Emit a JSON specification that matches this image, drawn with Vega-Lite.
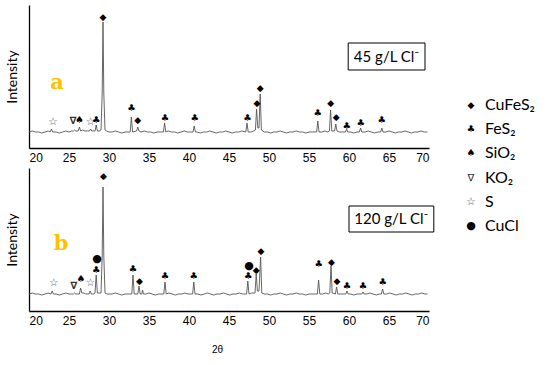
{
  "$schema": "https://vega.github.io/schema/vega-lite/v6.json",
  "padding": {"left": 5, "top": 5, "right": 0, "bottom": 0},
  "background": "white",
  "datasets": {
    "a": [
      {"t":20.0,"i":16},{"t":20.4,"i":17},{"t":20.8,"i":16},{"t":21.2,"i":16},{"t":21.6,"i":15},{"t":22.0,"i":16},{"t":22.4,"i":17},
      {"t":22.65,"i":16},{"t":22.8,"i":19},{"t":22.95,"i":16},
      {"t":23.4,"i":16},{"t":23.8,"i":15},{"t":24.2,"i":16},{"t":24.6,"i":17},{"t":25.0,"i":16},{"t":25.3,"i":17},
      {"t":25.55,"i":17},{"t":25.7,"i":18},{"t":25.85,"i":17},
      {"t":26.0,"i":17},
      {"t":26.15,"i":17},{"t":26.3,"i":21},{"t":26.45,"i":17},
      {"t":26.7,"i":18},{"t":27.0,"i":17},{"t":27.3,"i":17},
      {"t":27.55,"i":17},{"t":27.7,"i":19},{"t":27.85,"i":17},
      {"t":28.0,"i":17},
      {"t":28.25,"i":17},{"t":28.4,"i":23},{"t":28.55,"i":17},
      {"t":28.8,"i":17},
      {"t":29.0,"i":18},{"t":29.15,"i":55},{"t":29.25,"i":126},{"t":29.35,"i":55},{"t":29.5,"i":18},
      {"t":29.7,"i":17},{"t":30.0,"i":16},{"t":30.4,"i":16},{"t":30.8,"i":17},{"t":31.2,"i":16},{"t":31.6,"i":15},{"t":32.0,"i":16},{"t":32.4,"i":16},
      {"t":32.65,"i":16},{"t":32.8,"i":31},{"t":32.95,"i":16},
      {"t":33.45,"i":17},{"t":33.6,"i":21},{"t":33.75,"i":17},
      {"t":34.0,"i":16},{"t":34.4,"i":17},{"t":34.8,"i":16},{"t":35.2,"i":16},{"t":35.6,"i":15},{"t":36.0,"i":16},{"t":36.4,"i":16},
      {"t":36.8,"i":16},{"t":36.95,"i":25},{"t":37.1,"i":16},
      {"t":37.4,"i":17},{"t":37.8,"i":16},{"t":38.2,"i":16},{"t":38.6,"i":15},{"t":39.0,"i":16},{"t":39.4,"i":17},{"t":39.8,"i":16},{"t":40.2,"i":16},
      {"t":40.5,"i":16},{"t":40.65,"i":22},{"t":40.8,"i":16},
      {"t":41.0,"i":16},{"t":41.4,"i":15},{"t":41.8,"i":16},{"t":42.2,"i":16},{"t":42.6,"i":17},{"t":43.0,"i":16},{"t":43.4,"i":15},{"t":43.8,"i":16},{"t":44.2,"i":16},{"t":44.6,"i":17},{"t":45.0,"i":16},{"t":45.4,"i":15},{"t":45.8,"i":16},{"t":46.2,"i":16},{"t":46.6,"i":17},
      {"t":47.1,"i":16},{"t":47.25,"i":25},{"t":47.4,"i":16},
      {"t":47.7,"i":16},{"t":48.1,"i":17},
      {"t":48.3,"i":18},{"t":48.45,"i":39},{"t":48.6,"i":20},
      {"t":48.75,"i":20},{"t":48.9,"i":54},{"t":49.05,"i":18},
      {"t":49.4,"i":16},{"t":49.8,"i":16},{"t":50.2,"i":15},{"t":50.6,"i":16},{"t":51.0,"i":16},{"t":51.4,"i":17},{"t":51.8,"i":16},{"t":52.2,"i":15},{"t":52.6,"i":16},{"t":53.0,"i":16},{"t":53.4,"i":17},{"t":53.8,"i":16},{"t":54.2,"i":16},{"t":54.6,"i":15},{"t":55.0,"i":16},{"t":55.4,"i":16},{"t":55.8,"i":16},
      {"t":55.95,"i":16},{"t":56.1,"i":27},{"t":56.25,"i":16},
      {"t":56.6,"i":16},{"t":57.0,"i":17},{"t":57.3,"i":16},
      {"t":57.55,"i":17},{"t":57.7,"i":38},{"t":57.85,"i":17},
      {"t":58.2,"i":17},{"t":58.35,"i":24},{"t":58.5,"i":17},
      {"t":58.8,"i":16},{"t":59.2,"i":16},
      {"t":59.55,"i":16},{"t":59.7,"i":19},{"t":59.85,"i":16},
      {"t":60.2,"i":16},{"t":60.6,"i":15},{"t":61.0,"i":16},
      {"t":61.3,"i":16},{"t":61.45,"i":20},{"t":61.6,"i":16},
      {"t":62.0,"i":16},{"t":62.4,"i":17},{"t":62.8,"i":16},{"t":63.2,"i":15},{"t":63.6,"i":16},
      {"t":63.95,"i":16},{"t":64.1,"i":20},{"t":64.25,"i":16},
      {"t":64.6,"i":16},{"t":65.0,"i":17},{"t":65.4,"i":16},{"t":65.8,"i":15},{"t":66.2,"i":16},{"t":66.6,"i":16},{"t":67.0,"i":17},{"t":67.4,"i":16},{"t":67.8,"i":15},{"t":68.2,"i":16},{"t":68.6,"i":16},{"t":69.0,"i":17},{"t":69.4,"i":16},{"t":69.8,"i":16}
    ],
    "b": [
      {"t":20.0,"i":17},{"t":20.4,"i":18},{"t":20.8,"i":17},{"t":21.2,"i":17},{"t":21.6,"i":16},{"t":22.0,"i":17},{"t":22.4,"i":18},
      {"t":22.75,"i":17},{"t":22.9,"i":20},{"t":23.05,"i":17},
      {"t":23.4,"i":17},{"t":23.8,"i":16},{"t":24.2,"i":17},{"t":24.6,"i":18},{"t":25.0,"i":17},{"t":25.3,"i":17},
      {"t":25.55,"i":17},{"t":25.7,"i":18},{"t":25.85,"i":17},
      {"t":26.1,"i":17},
      {"t":26.3,"i":17},{"t":26.45,"i":23},{"t":26.6,"i":18},
      {"t":26.85,"i":18},{"t":27.1,"i":17},{"t":27.35,"i":17},
      {"t":27.5,"i":17},{"t":27.65,"i":20},{"t":27.8,"i":17},
      {"t":28.05,"i":17},
      {"t":28.25,"i":18},{"t":28.4,"i":36},{"t":28.55,"i":18},
      {"t":28.8,"i":18},
      {"t":29.0,"i":18},{"t":29.15,"i":55},{"t":29.25,"i":124},{"t":29.35,"i":55},{"t":29.5,"i":18},
      {"t":29.75,"i":17},{"t":30.0,"i":17},{"t":30.4,"i":17},{"t":30.8,"i":18},{"t":31.2,"i":17},{"t":31.6,"i":16},{"t":32.0,"i":17},{"t":32.4,"i":17},{"t":32.75,"i":17},
      {"t":32.85,"i":17},{"t":33.0,"i":36},{"t":33.15,"i":17},
      {"t":33.6,"i":17},{"t":33.75,"i":25},{"t":33.9,"i":17},
      {"t":34.1,"i":17},{"t":34.2,"i":21},{"t":34.3,"i":17},
      {"t":34.6,"i":17},{"t":35.0,"i":18},{"t":35.4,"i":17},{"t":35.8,"i":16},{"t":36.2,"i":17},{"t":36.6,"i":17},
      {"t":36.85,"i":17},{"t":37.0,"i":29},{"t":37.15,"i":17},
      {"t":37.5,"i":18},{"t":37.9,"i":17},{"t":38.3,"i":16},{"t":38.7,"i":17},{"t":39.1,"i":17},{"t":39.5,"i":18},{"t":39.9,"i":17},{"t":40.2,"i":17},
      {"t":40.45,"i":17},{"t":40.6,"i":29},{"t":40.75,"i":17},
      {"t":41.1,"i":17},{"t":41.5,"i":16},{"t":41.9,"i":17},{"t":42.3,"i":18},{"t":42.7,"i":17},{"t":43.1,"i":16},{"t":43.5,"i":17},{"t":43.9,"i":17},{"t":44.3,"i":18},{"t":44.7,"i":17},{"t":45.1,"i":16},{"t":45.5,"i":17},{"t":45.9,"i":17},{"t":46.3,"i":18},{"t":46.7,"i":17},{"t":47.0,"i":17},
      {"t":47.2,"i":17},{"t":47.35,"i":30},{"t":47.5,"i":17},
      {"t":47.8,"i":18},{"t":48.1,"i":18},
      {"t":48.25,"i":18},{"t":48.4,"i":37},{"t":48.55,"i":20},
      {"t":48.75,"i":20},{"t":48.95,"i":54},{"t":49.1,"i":18},
      {"t":49.4,"i":17},{"t":49.8,"i":17},{"t":50.2,"i":16},{"t":50.6,"i":17},{"t":51.0,"i":17},{"t":51.4,"i":18},{"t":51.8,"i":17},{"t":52.2,"i":16},{"t":52.6,"i":17},{"t":53.0,"i":17},{"t":53.4,"i":18},{"t":53.8,"i":17},{"t":54.2,"i":17},{"t":54.6,"i":16},{"t":55.0,"i":17},{"t":55.4,"i":17},{"t":55.8,"i":17},
      {"t":56.05,"i":17},{"t":56.2,"i":31},{"t":56.35,"i":17},
      {"t":56.7,"i":17},{"t":57.1,"i":18},{"t":57.4,"i":17},
      {"t":57.6,"i":18},{"t":57.75,"i":45},{"t":57.9,"i":18},
      {"t":58.3,"i":17},{"t":58.45,"i":24},{"t":58.6,"i":17},
      {"t":58.9,"i":17},{"t":59.3,"i":17},
      {"t":59.6,"i":17},{"t":59.75,"i":20},{"t":59.9,"i":17},
      {"t":60.2,"i":17},{"t":60.6,"i":16},{"t":61.0,"i":17},{"t":61.35,"i":17},
      {"t":61.6,"i":17},{"t":61.75,"i":19},{"t":61.9,"i":17},
      {"t":62.2,"i":17},{"t":62.6,"i":18},{"t":63.0,"i":17},{"t":63.4,"i":16},{"t":63.8,"i":17},
      {"t":64.05,"i":17},{"t":64.2,"i":22},{"t":64.35,"i":17},
      {"t":64.7,"i":17},{"t":65.1,"i":18},{"t":65.5,"i":17},{"t":65.9,"i":16},{"t":66.3,"i":17},{"t":66.7,"i":17},{"t":67.1,"i":18},{"t":67.5,"i":17},{"t":67.9,"i":16},{"t":68.3,"i":17},{"t":68.7,"i":17},{"t":69.1,"i":18},{"t":69.5,"i":17},{"t":69.8,"i":17}
    ],
    "annA": [
      {"t":23.0,"i":26,"s":"☆"},{"t":25.5,"i":27,"s":"∇"},{"t":26.3,"i":28,"s":"♠"},{"t":27.7,"i":26,"s":"☆"},{"t":28.4,"i":28,"s":"♣"},
      {"t":29.25,"i":131,"s":"◆"},{"t":32.8,"i":40,"s":"♣"},{"t":33.6,"i":28,"s":"◆"},{"t":37.0,"i":30,"s":"♣"},{"t":40.7,"i":30,"s":"♣"},
      {"t":47.3,"i":30,"s":"♣"},{"t":48.5,"i":45,"s":"◆"},{"t":48.9,"i":60,"s":"◆"},{"t":56.1,"i":35,"s":"♣"},{"t":57.7,"i":45,"s":"◆"},
      {"t":58.4,"i":31,"s":"◆"},{"t":59.7,"i":22,"s":"♣"},{"t":61.45,"i":25,"s":"♣"},{"t":64.1,"i":28,"s":"♣"}
    ],
    "annB": [
      {"t":23.1,"i":28,"s":"☆"},{"t":25.6,"i":25,"s":"∇"},{"t":26.5,"i":32,"s":"♠"},{"t":27.7,"i":28,"s":"☆"},{"t":28.4,"i":41,"s":"♣"},{"t":28.5,"i":52,"s":"●"},
      {"t":29.3,"i":135,"s":"◆"},{"t":33.0,"i":42,"s":"♣"},{"t":33.8,"i":30,"s":"◆"},{"t":37.0,"i":35,"s":"♣"},{"t":40.6,"i":35,"s":"♣"},
      {"t":47.4,"i":35,"s":"♣"},{"t":47.5,"i":45,"s":"●"},{"t":48.4,"i":41,"s":"◆"},{"t":49.0,"i":60,"s":"◆"},{"t":56.2,"i":47,"s":"♣"},{"t":57.8,"i":49,"s":"◆"},
      {"t":58.5,"i":30,"s":"◆"},{"t":59.75,"i":25,"s":"♣"},{"t":61.75,"i":25,"s":"♣"},{"t":64.2,"i":29,"s":"♣"}
    ],
    "leg": [
      {"r":1,"s":"◆","l":"CuFeS₂"},{"r":2,"s":"♣","l":"FeS₂"},{"r":3,"s":"♠","l":"SiO₂"},{"r":4,"s":"∇","l":"KO₂"},{"r":5,"s":"☆","l":"S"},{"r":6,"s":"●","l":"CuCl"}
    ]
  },
  "hconcat": [
    {
      "vconcat": [
        {
          "width": 400, "height": 143,
          "encoding": {
            "x": {"field": "t", "type": "quantitative", "scale": {"domain": [20, 70], "nice": false, "zero": false},
                  "axis": {"values": [20,25,30,35,40,45,50,55,60,65,70], "title": null, "labelPadding": 4}},
            "y": {"field": "i", "type": "quantitative", "scale": {"domain": [0, 143], "nice": false, "zero": false},
                  "axis": {"labels": false, "title": "Intensity", "titleFontSize": 14, "titlePadding": 10}}
          },
          "layer": [
            {"data": {"name": "a"}, "mark": {"type": "line", "color": "#555555", "strokeWidth": 0.9}},
            {"data": {"name": "annA"}, "mark": {"type": "text", "font": "DejaVu Sans", "fontWeight": "bold", "baseline": "middle", "align": "center"},
             "encoding": {
               "text": {"field": "s"},
               "color": {"field": "s", "type": "nominal", "legend": null, "scale": {"domain": ["◆","♣","♠","∇","☆","●"], "range": ["#000000","#000000","#000000","#333333","#4a5163","#000000"]}},
               "size": {"field": "s", "type": "nominal", "legend": null, "scale": {"domain": ["◆","♣","♠","∇","☆","●"], "range": [9,11,11,9,16,8]}}
             }},
            {"data": {"values": [{"t": 59.9, "t2": 69.5, "i": 78, "i2": 105}]},
             "mark": {"type": "rect", "fill": "white", "stroke": "#000000", "strokeWidth": 1},
             "encoding": {"x2": {"field": "t2"}, "y2": {"field": "i2"}}},
            {"data": {"values": [{"t": 64.7, "i": 91.5, "lab": "45 g/L Cl⁻"}]},
             "mark": {"type": "text", "font": "Lato", "fontSize": 15, "baseline": "middle", "align": "center", "color": "#000000"},
             "encoding": {"text": {"field": "lab"}}},
            {"data": {"values": [{"t": 23.5, "i": 65, "lab": "a"}]},
             "mark": {"type": "text", "font": "DejaVu Serif", "fontWeight": "bold", "fontSize": 21, "baseline": "middle", "align": "center", "color": "#FFC000"},
             "encoding": {"text": {"field": "lab"}}}
          ]
        },
        {
          "width": 400, "height": 143,
          "encoding": {
            "x": {"field": "t", "type": "quantitative", "scale": {"domain": [20, 70], "nice": false, "zero": false},
                  "axis": {"values": [20,25,30,35,40,45,50,55,60,65,70], "title": "2θ", "labelPadding": 4, "titleFont": "Liberation Sans", "titleFontSize": 10, "titlePadding": 18, "titleX": 188}},
            "y": {"field": "i", "type": "quantitative", "scale": {"domain": [0, 143], "nice": false, "zero": false},
                  "axis": {"labels": false, "title": "Intensity", "titleFontSize": 14, "titlePadding": 10}}
          },
          "layer": [
            {"data": {"name": "b"}, "mark": {"type": "line", "color": "#555555", "strokeWidth": 0.9}},
            {"data": {"name": "annB"}, "mark": {"type": "text", "font": "DejaVu Sans", "fontWeight": "bold", "baseline": "middle", "align": "center"},
             "encoding": {
               "text": {"field": "s"},
               "color": {"field": "s", "type": "nominal", "legend": null, "scale": {"domain": ["◆","♣","♠","∇","☆","●"], "range": ["#000000","#000000","#000000","#333333","#4a5163","#000000"]}},
               "size": {"field": "s", "type": "nominal", "legend": null, "scale": {"domain": ["◆","♣","♠","∇","☆","●"], "range": [9,11,11,9,16,8]}}
             }},
            {"data": {"values": [{"t": 60.0, "t2": 70.6, "i": 79, "i2": 105}]},
             "mark": {"type": "rect", "fill": "white", "stroke": "#000000", "strokeWidth": 1},
             "encoding": {"x2": {"field": "t2"}, "y2": {"field": "i2"}}},
            {"data": {"values": [{"t": 65.3, "i": 92, "lab": "120 g/L Cl⁻"}]},
             "mark": {"type": "text", "font": "Lato", "fontSize": 15, "baseline": "middle", "align": "center", "color": "#000000"},
             "encoding": {"text": {"field": "lab"}}},
            {"data": {"values": [{"t": 24.0, "i": 67, "lab": "b"}]},
             "mark": {"type": "text", "font": "DejaVu Serif", "fontWeight": "bold", "fontSize": 21, "baseline": "middle", "align": "center", "color": "#FFC000"},
             "encoding": {"text": {"field": "lab"}}}
          ]
        }
      ],
      "spacing": 5
    },
    {
      "width": 50, "height": 307,
      "data": {"name": "leg"},
      "encoding": {
        "x": {"datum": 0, "type": "quantitative", "scale": {"domain": [0, 1]}, "axis": null},
        "y": {"field": "r", "type": "quantitative", "scale": {"domain": [-3.13, 9.55], "reverse": true, "nice": false, "zero": false}, "axis": null}
      },
      "layer": [
        {"mark": {"type": "text", "font": "DejaVu Sans", "baseline": "middle", "align": "center"},
         "encoding": {
           "text": {"field": "s"},
           "color": {"field": "s", "type": "nominal", "legend": null, "scale": {"domain": ["◆","♣","♠","∇","☆","●"], "range": ["#000000","#000000","#000000","#111111","#555555","#000000"]}},
           "size": {"field": "s", "type": "nominal", "legend": null, "scale": {"domain": ["◆","♣","♠","∇","☆","●"], "range": [22,16,15,13,19,11]}}
         }},
        {"mark": {"type": "text", "font": "Lato", "fontSize": 16, "baseline": "middle", "align": "left", "dx": 14, "color": "#000000"},
         "encoding": {"text": {"field": "l"}}}
      ]
    }
  ],
  "spacing": 31,
  "config": {
    "view": {"stroke": null},
    "axis": {"grid": false, "ticks": false, "minExtent": 0, "labelOverlap": false, "domainColor": "#000000", "domainWidth": 1.3, "labelFont": "Liberation Sans", "labelFontSize": 12, "labelColor": "#000000", "titleFont": "Lato", "titleFontWeight": "normal", "titleColor": "#000000"}
  }
}
